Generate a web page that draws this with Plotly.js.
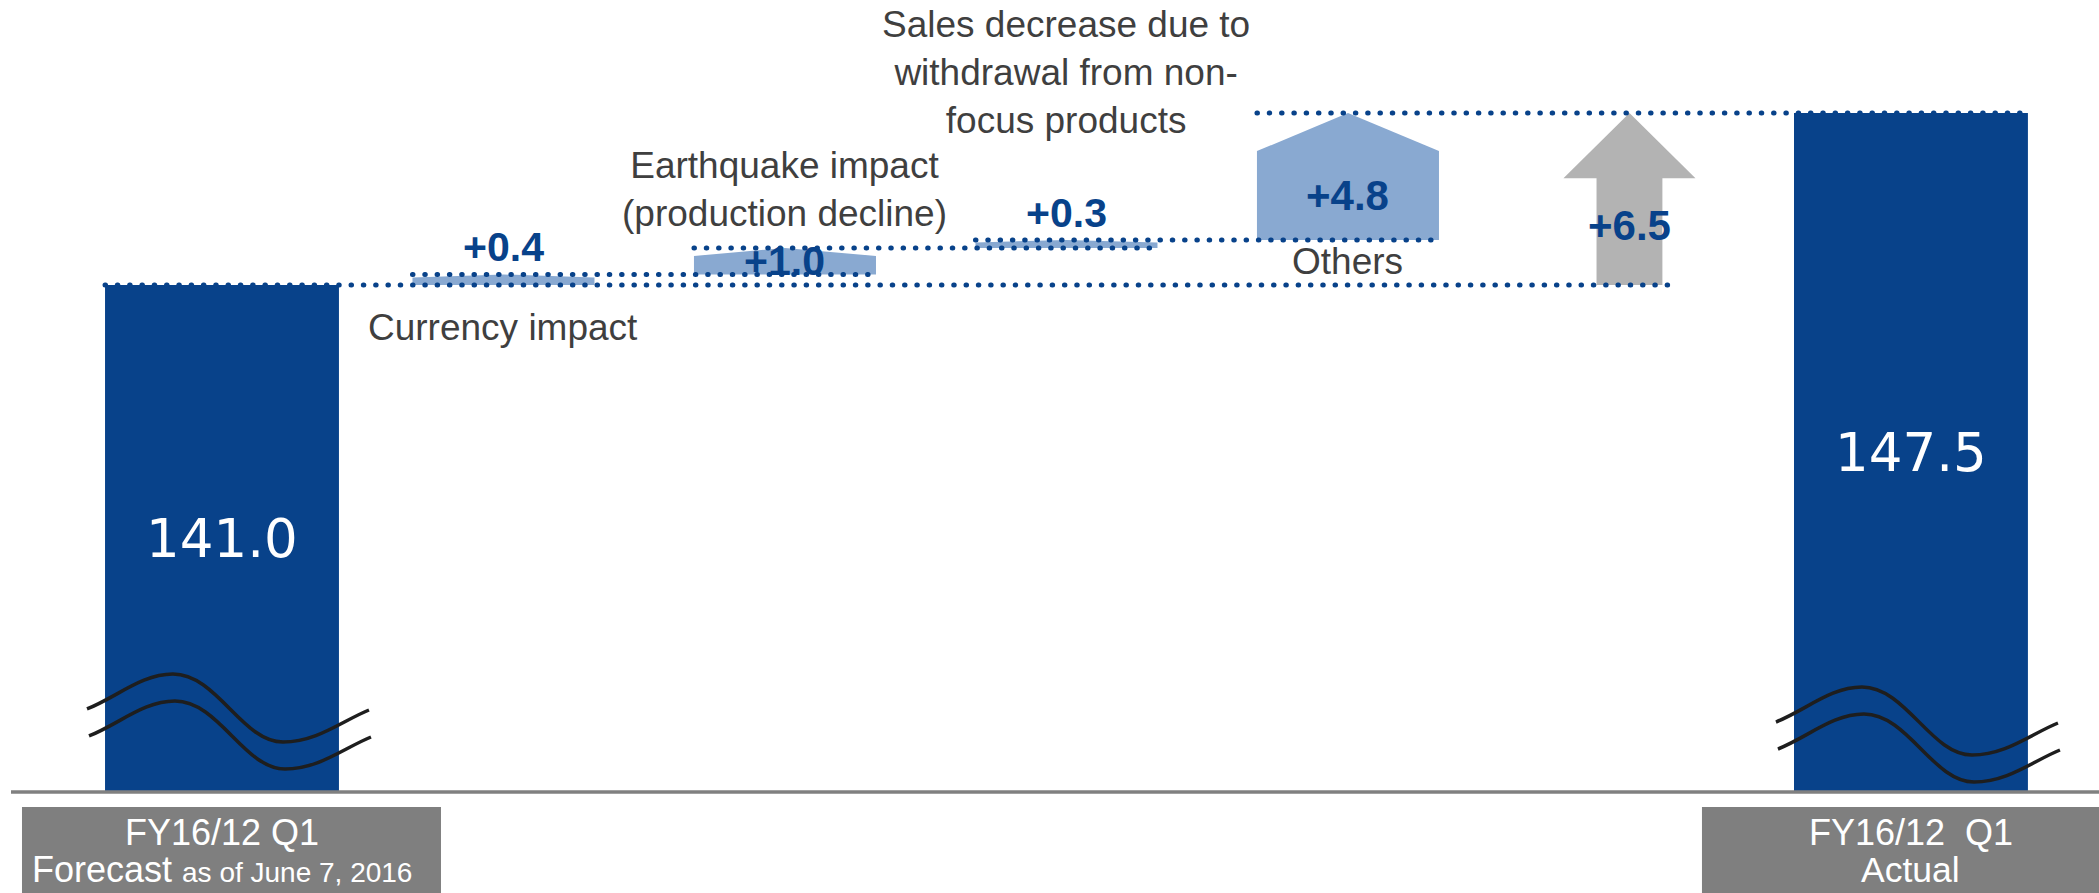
<!DOCTYPE html>
<html>
<head>
<meta charset="utf-8">
<script src="https://cdn.plot.ly/plotly-3.0.1.min.js"></script>
<style>
html, body { margin: 0; padding: 0; background: #ffffff; }
#chart { width: 2099px; height: 893px; }
.scatterlayer .js-line { stroke-linecap: round !important; }
</style>
</head>
<body>
<div id="chart"></div>
<script>
// ---------------- data ----------------
const categories = [
  "FY16/12 Q1 Forecast",
  "Currency impact",
  "Earthquake impact (production decline)",
  "Sales decrease due to withdrawal from non-focus products",
  "Others",
  "Total change",
  "FY16/12 Q1 Actual"
];
const startValue = 141.0;     // FY16/12 Q1 forecast (as of June 7, 2016)
const endValue = 147.5;       // FY16/12 Q1 actual
const stepValues = [0.4, 1.0, 0.3, 4.8];
const stepLabels = [
  "Currency impact",
  "Earthquake impact<br>(production decline)",
  "Sales decrease due to<br>withdrawal from non-<br>focus products",
  "Others"
];
const boxLine1 = ["FY16/12 Q1", "FY16/12&nbsp; Q1"];
const boxLine2 = ["Forecast <span style='font-size:28px'>as of June 7, 2016</span>", "Actual"];

// ---------------- style / layout config ----------------
const W = 2099, H = 893, B = 101, PH = H - B;
const xr = [-0.7886, 6.668];
const yr = [121.84, 151.77];
const DARK = "#08428a", LIGHT = "#89a9d1", ARROW = "#b3b3b3", BOXGRAY = "#7f7f7f", TXT = "#3f3f3f";
const FONT = "Liberation Sans, Arial, sans-serif";
const barHalf = 0.4155, stepHalf = 0.3233, shaftHalf = 0.117, headHalf = 0.2345;
const peakFrac = 0.3, headFrac = 0.38;
const catPlace = ["below", "above", "above", "between"];
const valPlace = ["above", "inside", "above", "inside"];

const xPx = i => (i - xr[0]) / (xr[1] - xr[0]) * W;
const yPaper = py => 1 - py / PH;

// cumulative levels
const levels = [startValue];
stepValues.forEach(v => levels.push(+(levels[levels.length - 1] + v).toFixed(2)));
const totalChange = endValue - startValue;

const traces = [];

// totals bars
traces.push({
  type: "bar", x: [0, 6], y: [startValue, endValue], width: barHalf * 2,
  marker: { color: DARK, line: { width: 0 } }, hoverinfo: "skip", showlegend: false
});

// step pentagons
stepValues.forEach((d, k) => {
  const i = k + 1, s = levels[k], e = levels[k + 1], side = e - peakFrac * d;
  traces.push({
    type: "scatter", mode: "lines", fill: "toself", fillcolor: LIGHT,
    line: { width: 0, color: LIGHT },
    x: [i - stepHalf, i - stepHalf, i, i + stepHalf, i + stepHalf, i - stepHalf],
    y: [s, side, e, side, s, s], hoverinfo: "skip", showlegend: false
  });
});

// total change arrow
const headBase = endValue - headFrac * totalChange;
traces.push({
  type: "scatter", mode: "lines", fill: "toself", fillcolor: ARROW,
  line: { width: 0, color: ARROW },
  x: [5 - shaftHalf, 5 - shaftHalf, 5 - headHalf, 5, 5 + headHalf, 5 + shaftHalf, 5 + shaftHalf, 5 - shaftHalf],
  y: [startValue, headBase, headBase, endValue, headBase, headBase, startValue, startValue],
  hoverinfo: "skip", showlegend: false
});

// dotted connector lines
const dotLine = (x0, x1, v) => ({
  type: "scatter", mode: "lines", x: [x0, x1], y: [v, v],
  line: { color: DARK, width: 5, dash: "0.5px,11.8px" }, hoverinfo: "skip", showlegend: false
});
traces.push(dotLine(0 - barHalf, 5 + 0.15, levels[0]));
for (let k = 1; k <= 3; k++) traces.push(dotLine(k - stepHalf, k + 1 + stepHalf, levels[k]));
traces.push(dotLine(4 - stepHalf, 6 + barHalf, levels[4]));

// ---------------- annotations ----------------
const ann = [];
// totals values
[[0, startValue], [6, endValue]].forEach(([i, v]) => ann.push({
  x: i, y: (v + yr[0]) / 2, xref: "x", yref: "y", showarrow: false,
  text: v.toFixed(1), font: { family: "DejaVu Sans, Verdana, sans-serif", size: 53, color: "#ffffff" }
}));
// step values and labels
stepValues.forEach((d, k) => {
  const i = k + 1, s = levels[k], e = levels[k + 1];
  const vt = "<b>+" + d.toFixed(1) + "</b>";
  const vf = { family: FONT, size: 41, color: DARK };
  if (valPlace[k] === "above") {
    ann.push({ x: i, y: e, yanchor: "bottom", yshift: 2, showarrow: false, text: vt, font: vf });
  } else if (d > 1.5) {
    ann.push({ x: i, y: (s + e - peakFrac * d) / 2, yanchor: "middle", showarrow: false, text: vt,
      font: { family: FONT, size: 42, color: DARK } });
  } else {
    ann.push({ x: i, y: s + d / 2, yanchor: "middle", showarrow: false, text: vt, font: vf });
  }
  const cf = { family: FONT, size: 37, color: TXT };
  if (catPlace[k] === "below") {
    ann.push({ x: i, y: s, yanchor: "top", yshift: -20, showarrow: false, text: stepLabels[k], font: cf });
  } else if (catPlace[k] === "between") {
    ann.push({ x: i, y: (s + startValue) / 2, yanchor: "middle", yshift: 1, showarrow: false, text: stepLabels[k], font: cf });
  } else {
    ann.push({ x: i, y: e, yanchor: "bottom", yshift: k === 1 ? 12 : 97, showarrow: false, text: stepLabels[k], font: cf });
  }
});
// total change label
ann.push({ x: 5, y: (startValue + headBase) / 2, yanchor: "middle", yshift: 6, showarrow: false,
  text: "<b>+" + totalChange.toFixed(1) + "</b>", font: { family: FONT, size: 42, color: DARK } });
// category boxes text
[0, 6].forEach((i, j) => {
  ann.push({ x: i, xref: "x", yref: "paper", y: yPaper(832), yanchor: "middle", showarrow: false,
    text: boxLine1[j], font: { family: FONT, size: 36, color: "#ffffff" } });
  ann.push({ x: i, xref: "x", yref: "paper", y: yPaper(870), yanchor: "middle", showarrow: false,
    text: boxLine2[j], font: { family: FONT, size: j === 0 ? 36 : 35.5, color: "#ffffff" } });
});

// ---------------- shapes ----------------
function wave(cx, y0) {
  const P = (dx, dy) => ((cx + dx) / W).toFixed(5) + "," + (1 - (y0 + dy) / PH).toFixed(5);
  return "M" + P(-135, 0) + " C" + P(-105, -12) + " " + P(-80, -35) + " " + P(-49, -35) +
         " C" + P(-5, -35) + " " + P(20, 33) + " " + P(61, 33) +
         " C" + P(95, 33) + " " + P(120, 12) + " " + P(147, 1);
}
const shapes = [];
shapes.push({ type: "rect", xref: "paper", yref: "paper", x0: (xPx(0) - 200) / W, x1: (xPx(0) + 219) / W,
  y0: yPaper(905), y1: yPaper(807), fillcolor: BOXGRAY, line: { width: 0 }, layer: "above" });
shapes.push({ type: "rect", xref: "paper", yref: "paper", x0: (xPx(6) - 209) / W, x1: 1.02,
  y0: yPaper(905), y1: yPaper(807), fillcolor: BOXGRAY, line: { width: 0 }, layer: "above" });
shapes.push({ type: "line", xref: "paper", yref: "paper", x0: 11 / W, x1: 1, y0: 0, y1: 0,
  line: { color: "#808080", width: 3.5 }, layer: "above" });
[[xPx(0), 709], [xPx(6), 722]].forEach(([cx, y0]) => {
  shapes.push({ type: "path", xref: "paper", yref: "paper", path: wave(cx, y0), line: { color: "#1e1e1e", width: 3.5 }, layer: "above" });
  shapes.push({ type: "path", xref: "paper", yref: "paper", path: wave(cx + 2, y0 + 27), line: { color: "#1e1e1e", width: 3.5 }, layer: "above" });
});

const layout = {
  width: W, height: H,
  margin: { l: 0, r: 0, t: 0, b: B, pad: 0 },
  paper_bgcolor: "#ffffff", plot_bgcolor: "#ffffff",
  showlegend: false, hovermode: false, barmode: "overlay",
  xaxis: { range: xr, visible: false, fixedrange: true },
  yaxis: { range: yr, visible: false, fixedrange: true },
  annotations: ann, shapes: shapes
};

Plotly.newPlot("chart", traces, layout, { displayModeBar: false, staticPlot: true });
</script>
</body>
</html>
